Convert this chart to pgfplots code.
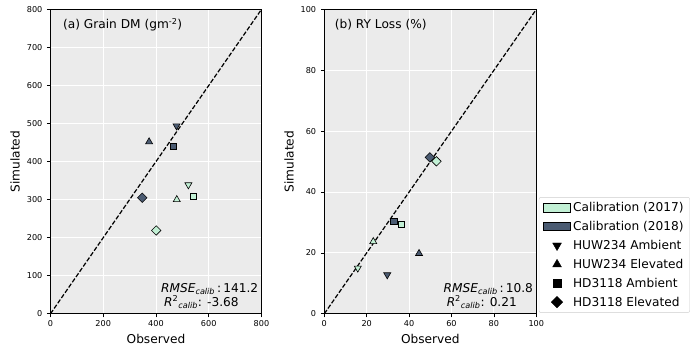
\documentclass[border=0pt]{standalone}
\usepackage{fontspec}
\setmainfont{DejaVu Sans}
\usepackage{pgfplots}
\pgfplotsset{compat=1.18}

\definecolor{calA}{HTML}{C2F0D5}
\definecolor{calB}{HTML}{4B5B72}
\definecolor{panel}{HTML}{EBEBEB}

\pgfplotsset{
  panelstyle/.style={
    scale only axis, height=300pt,
    axis background/.style={fill=panel},
    grid=major, major grid style={white, line width=0.8pt},
    axis line style={black, line width=0.6pt},
    tick align=outside, tick pos=left, major tick length=3.5pt,
    tick style={black, line width=0.6pt},
    ticklabel style={font=\fontsize{8}{9}\selectfont},
    yticklabel style={xshift=-1pt},
    /pgf/number format/assume math mode=true,
    label style={font=\fontsize{12}{14}\selectfont},
    xlabel=Observed, ylabel=Simulated,
  },
  mdn/.style={only marks, mark=triangle*, mark size=4pt,
    mark options={rotate=180, draw=black, line width=0.6pt, fill=#1}},
  mup/.style={only marks, mark=triangle*, mark size=4pt,
    mark options={draw=black, line width=0.6pt, fill=#1}},
  msq/.style={only marks, mark=square*, mark size=3pt,
    mark options={draw=black, line width=0.6pt, fill=#1}},
  mdi/.style={only marks, mark=square*, mark size=3.3pt,
    mark options={rotate=45, draw=black, line width=0.6pt, fill=#1}},
  oneone/.style={black, line width=1.2pt, dash pattern=on 4.4pt off 1.9pt},
  rectleg/.style={legend image code/.code={\draw[sharp corners, fill=#1, draw=black, line width=0.6pt] (0pt,-4pt) rectangle (27pt,4pt);}},
  markleg/.style={legend image code/.code={\draw[##1] plot coordinates {(13.5pt,0pt)};}},
}

\begin{document}
\begin{tikzpicture}
% (a) grain dry matter
\begin{axis}[panelstyle, width=208pt,
  xmin=0, xmax=800, ymin=0, ymax=800,
  xtick={0,200,...,800}, ytick={0,100,...,800}]
\addplot[oneone] coordinates {(0,0) (800,800)};
\addplot[mdn=calB] coordinates {(478,494)};
\addplot[mup=calB] coordinates {(374,452)};
\addplot[msq=calB] coordinates {(466,440)};
\addplot[mdi=calB] coordinates {(348,305)};
\addplot[mdn=calA] coordinates {(523,339)};
\addplot[mup=calA] coordinates {(479,300)};
\addplot[msq=calA] coordinates {(542,308)};
\addplot[mdi=calA] coordinates {(401,219)};
\node[anchor=west, font=\fontsize{12}{14}\selectfont]
  at (rel axis cs:0.043,0.95) {(a) Grain DM (gm\textsuperscript{-2})};
\node[anchor=south east, align=left, font=\fontsize{12}{14}\selectfont, inner sep=2pt]
  at (rel axis cs:0.995,0.01)
  {\textit{RMSE}\textsubscript{\textit{calib}}\,:\,141.2\\
   \hspace*{3pt}\textit{R}\textsuperscript{2}\textsubscript{\textit{calib}}: -3.68};
\end{axis}

% (b) relative yield loss
\begin{axis}[panelstyle, width=209pt, at={(270pt,0pt)},
  xmin=0, xmax=100, ymin=0, ymax=100,
  xtick={0,20,...,100}, ytick={0,20,...,100},
  legend style={at={(1.012,0.003)}, anchor=south west,
    font=\fontsize{12}{14}\selectfont, draw=black!20, rounded corners=2pt,
    fill=white, row sep=4pt, cells={anchor=west}, inner xsep=4pt, inner ysep=3pt}]
\addplot[oneone, forget plot] coordinates {(0,0) (100,100)};
\addplot[mdn=calB, forget plot] coordinates {(29.7,12.8)};
\addplot[mup=calB, forget plot] coordinates {(44.7,19.8)};
\addplot[msq=calB, forget plot] coordinates {(32.8,30.3)};
\addplot[mdi=calB, forget plot] coordinates {(49.8,51.4)};
\addplot[mdn=calA, forget plot] coordinates {(15.8,15.0)};
\addplot[mup=calA, forget plot] coordinates {(23.1,23.7)};
\addplot[msq=calA, forget plot] coordinates {(36.2,29.3)};
\addplot[mdi=calA, forget plot] coordinates {(52.9,50.1)};
\node[anchor=west, font=\fontsize{12}{14}\selectfont]
  at (rel axis cs:0.033,0.95) {(b) RY Loss (\%)};
\node[anchor=south east, align=left, font=\fontsize{12}{14}\selectfont, inner sep=2pt]
  at (rel axis cs:0.995,0.01)
  {\textit{RMSE}\textsubscript{\textit{calib}}\,:\,10.8\\
   \hspace*{3pt}\textit{R}\textsuperscript{2}\textsubscript{\textit{calib}}: 0.21};
\addlegendimage{rectleg=calA}
\addlegendentry{Calibration (2017)}
\addlegendimage{rectleg=calB}
\addlegendentry{Calibration (2018)}
\addlegendimage{markleg, only marks, mark=triangle*, mark size=5pt, mark options={rotate=180, fill=black}}
\addlegendentry{HUW234 Ambient}
\addlegendimage{markleg, only marks, mark=triangle*, mark size=5pt, mark options={fill=black}}
\addlegendentry{HUW234 Elevated}
\addlegendimage{markleg, only marks, mark=square*, mark size=4pt, mark options={fill=black}}
\addlegendentry{HD3118 Ambient}
\addlegendimage{markleg, only marks, mark=square*, mark size=4pt, mark options={rotate=45, fill=black}}
\addlegendentry{HD3118 Elevated}
\end{axis}
\path ([xshift=7pt,yshift=-3pt]current bounding box.south east);
\path ([xshift=-7pt,yshift=3pt]current bounding box.north west);
\end{tikzpicture}
\end{document}
